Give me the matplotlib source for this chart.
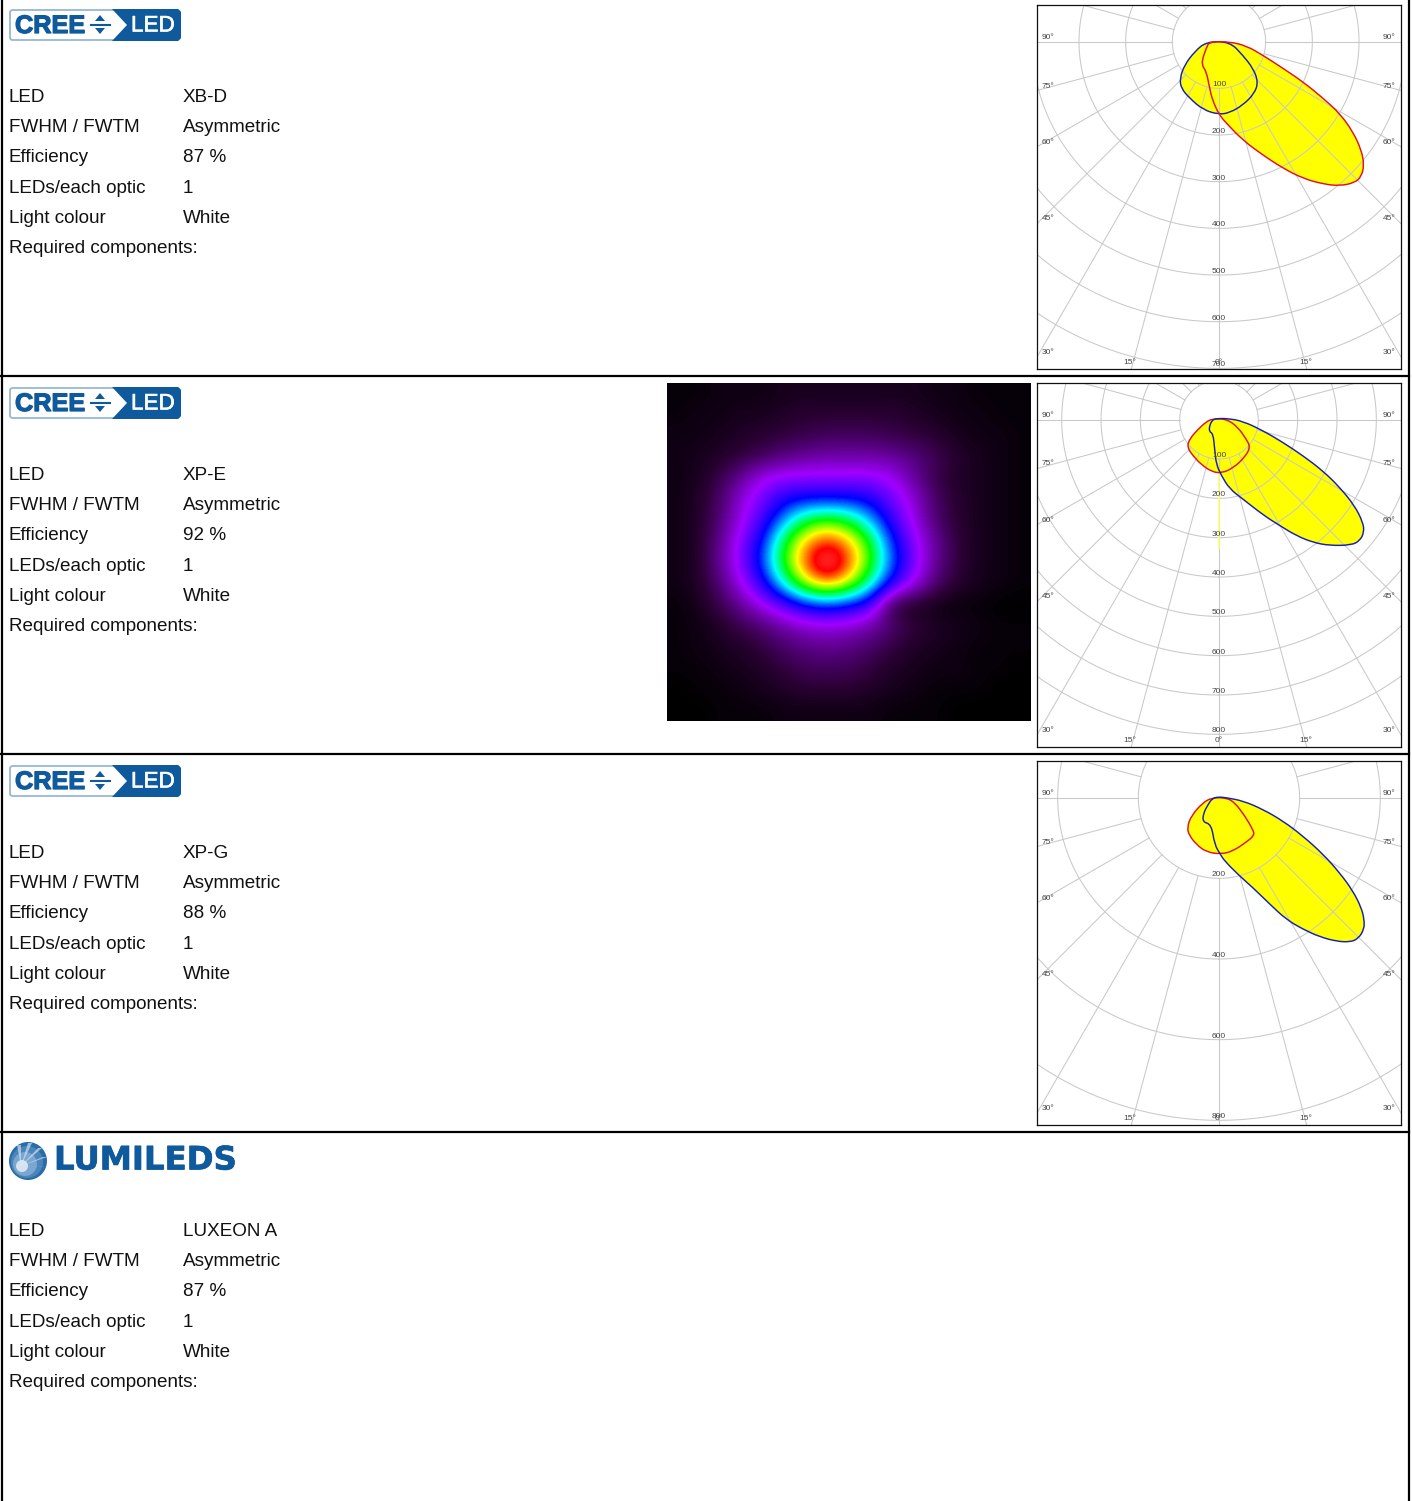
"""
LED optics overview sheet: four product rows with logo, spec table,
light distribution image and polar intensity diagrams.
"""
import numpy as np
import matplotlib

matplotlib.use('Agg')
import matplotlib.pyplot as plt
import matplotlib.patheffects as pe
from matplotlib.colors import LinearSegmentedColormap
from matplotlib.patches import Circle, FancyBboxPatch, PathPatch, Polygon
from matplotlib.path import Path

plt.rcParams['font.family'] = ['Liberation Sans', 'DejaVu Sans']

W, H = 1412, 1501
ROW_H = 378

SPEC_LABELS = ["LED", "FWHM / FWTM", "Efficiency", "LEDs/each optic", "Light colour"]
LED_NAMES = ["XB-D", "XP-E", "XP-G", "LUXEON A"]
BEAM = ["Asymmetric", "Asymmetric", "Asymmetric", "Asymmetric"]
EFFICIENCY = ["87 %", "92 %", "88 %", "87 %"]
LEDS_PER_OPTIC = ["1", "1", "1", "1"]
LIGHT_COLOUR = ["White", "White", "White", "White"]

# polar curves as (lateral, axial) candela readings from the diagram centre
XBD_RED_X = [23, 59, 94, 137, 180, 223, 259, 287, 305, 311, 305, 291, 259, 223, 180, 137,
             94, 51, 16, 0, -14, -20, -27, -37, -34, -27, -21]
XBD_RED_Y = [0, 9, 29, 57, 86, 121, 154, 193, 232, 264, 289, 302, 309, 305, 293, 271,
             243, 211, 175, 156, 125, 100, 64, 50, 32, 14, 0]
XBD_BLUE_X = [-27, 23, 51, 73, 84, 76, 51, 23, 0, -34, -63, -81, -84, -74, -52]
XBD_BLUE_Y = [0, 0, 29, 57, 86, 111, 136, 152, 156, 146, 121, 100, 79, 50, 21]

XPE_BLUE_X = [23, 61, 112, 163, 214, 264, 307, 345, 366, 369, 358, 336, 281, 239, 197, 154,
              112, 61, 27, 6, -7, -11, -15, -25, -24, -17, -7]
XPE_BLUE_Y = [-3, 4, 28, 58, 92, 130, 172, 219, 261, 286, 308, 319, 320, 312, 295, 269,
              242, 202, 176, 142, 113, 75, 36, 30, 15, 1, -3]
XPE_RED_X = [-17, 19, 48, 69, 80, 65, 36, 6, -19, -45, -66, -81, -75, -53, -32]
XPE_RED_Y = [-2, -2, 19, 49, 70, 96, 123, 136, 132, 114, 92, 70, 49, 24, 5]

XPG_BLUE_X = [18, 60, 109, 159, 208, 258, 299, 332, 353, 360, 360, 345, 324, 291, 250, 208,
              167, 126, 84, 51, 14, 3, -11, -19, -41, -38, -27, -17, -2]
XPG_BLUE_Y = [0, 8, 29, 58, 95, 140, 186, 231, 273, 302, 326, 350, 358, 356, 345, 326,
              302, 264, 223, 194, 157, 140, 116, 66, 60, 37, 17, 2, -2]
XPG_RED_X = [-17, 18, 39, 64, 84, 88, 68, 35, 6, -31, -56, -74, -79, -69, -40]
XPG_RED_Y = [0, 0, 12, 45, 79, 93, 110, 132, 140, 135, 116, 93, 74, 45, 12]

XBD_RINGS = [100, 200, 300, 400, 500, 600, 700]
XPE_RINGS = [100, 200, 300, 400, 500, 600, 700, 800]
XPG_RINGS = [200, 400, 600, 800]

# light distribution of the XP-E row, relative level in percent
XPE_LEVELS = [
    [1, 1, 2, 2, 2, 3, 3, 3, 3, 3, 3, 3, 2, 2, 1, 1, 1],
    [1, 2, 2, 3, 3, 4, 5, 5, 5, 5, 5, 4, 3, 2, 2, 1, 1],
    [2, 2, 3, 4, 5, 6, 7, 8, 8, 8, 7, 6, 5, 3, 2, 2, 1],
    [2, 3, 4, 6, 8, 11, 13, 14, 14, 14, 13, 11, 8, 5, 3, 2, 1],
    [2, 3, 7, 13, 20, 22, 22, 22, 22, 22, 20, 13, 7, 4, 3, 2, 1],
    [2, 4, 9, 18, 24, 31, 33, 33, 33, 31, 24, 18, 9, 5, 3, 2, 1],
    [2, 4, 10, 19, 28, 41, 53, 57, 53, 42, 29, 19, 10, 5, 3, 2, 1],
    [2, 4, 12, 23, 34, 54, 70, 78, 70, 55, 35, 23, 13, 6, 3, 2, 1],
    [2, 4, 13, 23, 37, 57, 76, 98, 76, 57, 38, 24, 13, 6, 3, 2, 1],
    [2, 4, 10, 20, 30, 47, 63, 70, 63, 48, 31, 20, 10, 5, 3, 2, 1],
    [1, 3, 7, 13, 20, 26, 33, 36, 33, 28, 5, 3, 2, 1, 1, 0, 0],
    [1, 2, 4, 7, 10, 14, 17, 18, 17, 14, 10, 6, 4, 3, 2, 1, 1],
    [1, 2, 3, 4, 6, 9, 11, 12, 11, 9, 6, 4, 3, 2, 1, 1, 1],
    [1, 1, 2, 3, 4, 6, 8, 8, 8, 6, 4, 3, 2, 2, 1, 1, 0],
    [0, 1, 1, 2, 3, 4, 5, 5, 5, 4, 3, 2, 1, 1, 1, 0, 0],
    [0, 0, 1, 1, 1, 2, 2, 2, 2, 2, 1, 1, 1, 0, 0, 0, 0],
]

LOGO_BLUE = '#0f5a9c'
GRID = '#c9c9c9'
RED = '#e0102a'
BLUE = '#1420b4'
LABEL = '#444444'

lux_cmap = LinearSegmentedColormap.from_list('lux', [
    (0.00, '#000000'), (0.05, '#2a0033'), (0.20, '#a000ff'), (0.33, '#0000ff'),
    (0.45, '#00ffff'), (0.55, '#00ff00'), (0.66, '#ffff00'), (0.80, '#ff0000'),
    (1.00, '#ff8080'),
])


def px_axes(fig, x0, y0, x1, y1):
    """Axes placed by pixel box, y counted from the top of the sheet."""
    return fig.add_axes([x0 / W, 1 - y1 / H, (x1 - x0) / W, (y1 - y0) / H])


def lobe_path(xs, ys):
    """Closed quadratic path using the readings as control points."""
    pts = np.column_stack([xs, ys])
    mids = (pts + np.roll(pts, -1, axis=0)) / 2
    verts = [mids[-1]]
    codes = [Path.MOVETO]
    for ctrl, end in zip(pts, mids):
        verts += [ctrl, end]
        codes += [Path.CURVE3, Path.CURVE3]
    return Path(verts, codes)


def draw_cree_logo(ax, top):
    ax.add_patch(FancyBboxPatch((10, top + 10), 170, 30, boxstyle='round,pad=0,rounding_size=2.5',
                                fc='white', ec='#8db2d3', lw=1.2))
    ax.add_patch(Polygon([(112, top + 9), (178, top + 9), (181, top + 12), (181, top + 38),
                          (178, top + 41), (112, top + 41), (127, top + 25)], fc=LOGO_BLUE, ec='none'))
    ax.text(15, top + 26, "CREE", color=LOGO_BLUE, fontsize=18.2, fontweight='bold', va='center', ha='left',
            path_effects=[pe.withStroke(linewidth=0.9, foreground=LOGO_BLUE)])
    ax.text(131, top + 26, "LED", color='white', fontsize=16.2, va='center', ha='left',
            path_effects=[pe.withStroke(linewidth=0.4, foreground='white')])
    ax.add_patch(Polygon([(95, top + 21), (105, top + 21), (100, top + 15)], fc=LOGO_BLUE, ec='none'))
    ax.add_patch(Polygon([(95, top + 28), (105, top + 28), (100, top + 34)], fc=LOGO_BLUE, ec='none'))
    ax.plot([91, 110], [top + 24.5, top + 24.5], color=LOGO_BLUE, lw=1.5)


def draw_lumileds_logo(ax, top):
    cx, cy = 28, top + 27
    ax.add_patch(Circle((cx, cy), 19, fc='#2a6ca8', ec='none'))
    ax.add_patch(Circle((cx - 1, cy + 1), 16, fc='#4a85bb', ec='none'))
    ax.add_patch(Circle((cx - 3, cy + 3), 12, fc='#7aa6cf', ec='none'))
    for tip in [(cx + 2, cy - 18), (cx + 12, cy - 13), (cx + 17, cy - 4), (cx + 18, cy + 6), (cx - 9, cy - 16)]:
        ax.add_patch(Polygon([(cx - 7, cy + 5), (tip[0] - 2, tip[1]), (tip[0] + 2, tip[1])],
                             fc='#cfe0ef', ec='none', alpha=0.7))
    ax.add_patch(Circle((cx - 6, cy + 5), 6, fc='#e6eff7', ec='none', alpha=0.85))
    ax.text(54, top + 27, "LUMILEDS", color=LOGO_BLUE, fontsize=23.3, fontweight='bold', va='center', ha='left',
            family='DejaVu Sans', path_effects=[pe.withStroke(linewidth=0.5, foreground=LOGO_BLUE)])


def draw_specs(ax, top, idx):
    values = [LED_NAMES[idx], BEAM[idx], EFFICIENCY[idx], LEDS_PER_OPTIC[idx], LIGHT_COLOUR[idx]]
    rows = [102.3, 132.3, 162.5, 192.7, 223]
    for y, label, value in zip(rows, SPEC_LABELS, values):
        ax.text(9, top + y, label, fontsize=13.6, va='baseline', ha='left', color='#111111')
        ax.text(183, top + y, value, fontsize=13.6, va='baseline', ha='left', color='#111111')
    ax.text(9, top + 253, "Required components:", fontsize=13.6, va='baseline', ha='left', color='#111111')


def draw_polar(fig, top, rings, px_per_cd, under, over, over_color, under_color, spoke=None):
    ax = px_axes(fig, 1037, top + 5, 1401, top + 369)
    half = 182 / px_per_cd
    cy_px = 36.7
    ax.set_xlim(-half, half)
    ax.set_ylim((364 - cy_px) / px_per_cd, -cy_px / px_per_cd)
    ax.set_xticks([])
    ax.set_yticks([])
    for s in ax.spines.values():
        s.set_linewidth(0.9)
        s.set_color('#111111')
        s.set_zorder(6)

    path_under = lobe_path(*under)
    path_over = lobe_path(*over)
    ax.add_patch(PathPatch(path_under, fc='#ffff00', ec='none', zorder=1))
    ax.add_patch(PathPatch(path_over, fc='#ffff00', ec='none', zorder=1))

    t = np.radians(np.arange(0, 361, 2))
    for r in rings:
        ax.plot(r * np.sin(t), r * np.cos(t), color=GRID, lw=0.75, zorder=2)
    r0, r1 = rings[0], 2000
    for a in np.radians(np.arange(0, 360, 15)):
        ax.plot([r0 * np.sin(a), r1 * np.sin(a)], [r0 * np.cos(a), r1 * np.cos(a)], color=GRID, lw=0.75, zorder=2)
    if spoke is not None:
        ax.plot([0, 0], spoke, color='#ffff70', lw=1.2, zorder=3)

    ax.add_patch(PathPatch(path_under, fc='none', ec=under_color, lw=1.05, zorder=4))
    ax.add_patch(PathPatch(path_over, fc='none', ec=over_color, lw=1.05, zorder=4))

    for r in rings:
        ax.text(0, r - 3.4 / px_per_cd, str(r), fontsize=6, color=LABEL, ha='center', va='center', zorder=5)

    # angle labels sit at fixed places in the frame
    side = [("90°", 32.5), ("75°", 81), ("60°", 137.5), ("45°", 214), ("30°", 347.5)]
    for text, y in side:
        ax.text(11 / 364, 1 - y / 364, text, transform=ax.transAxes, fontsize=6, color=LABEL,
                ha='center', va='center', zorder=5)
        ax.text(352 / 364, 1 - y / 364, text, transform=ax.transAxes, fontsize=6, color=LABEL,
                ha='center', va='center', zorder=5)
    for x, text in [(93, "15°"), (182, "0°"), (269, "15°")]:
        ax.text(x / 364, 1 - 357 / 364, text, transform=ax.transAxes, fontsize=6, color=LABEL,
                ha='center', va='center', zorder=5)


fig = plt.figure(figsize=(W / 100, H / 100), dpi=100, facecolor='white')
base = fig.add_axes([0, 0, 1, 1])
base.set_xlim(0, W)
base.set_ylim(H, 0)
base.axis('off')

# row frames
base.plot([1.5, 1.5], [0, H], color='black', lw=1.6)
base.plot([1408.5, 1408.5], [0, H], color='black', lw=1.6)
for y in [376, 754, 1132]:
    base.plot([0, 1409], [y, y], color='black', lw=1.6)

for i in range(3):
    draw_cree_logo(base, i * ROW_H)
draw_lumileds_logo(base, 3 * ROW_H)
for i in range(4):
    draw_specs(base, i * ROW_H, i)

draw_polar(fig, 0, XBD_RINGS, 0.4667,
           (XBD_BLUE_X, XBD_BLUE_Y), (XBD_RED_X, XBD_RED_Y), RED, BLUE)
draw_polar(fig, ROW_H, XPE_RINGS, 0.3933,
           (XPE_RED_X, XPE_RED_Y), (XPE_BLUE_X, XPE_BLUE_Y), BLUE, RED,
           spoke=[136, 325])
draw_polar(fig, 2 * ROW_H, XPG_RINGS, 0.4033,
           (XPG_RED_X, XPG_RED_Y), (XPG_BLUE_X, XPG_BLUE_Y), BLUE, RED)

heat = px_axes(fig, 667, 383, 1031, 721)
heat.imshow(np.array(XPE_LEVELS), cmap=lux_cmap, vmin=0, vmax=100, aspect='auto', interpolation='bicubic')
heat.axis('off')

fig.savefig('out.png', dpi=100)
